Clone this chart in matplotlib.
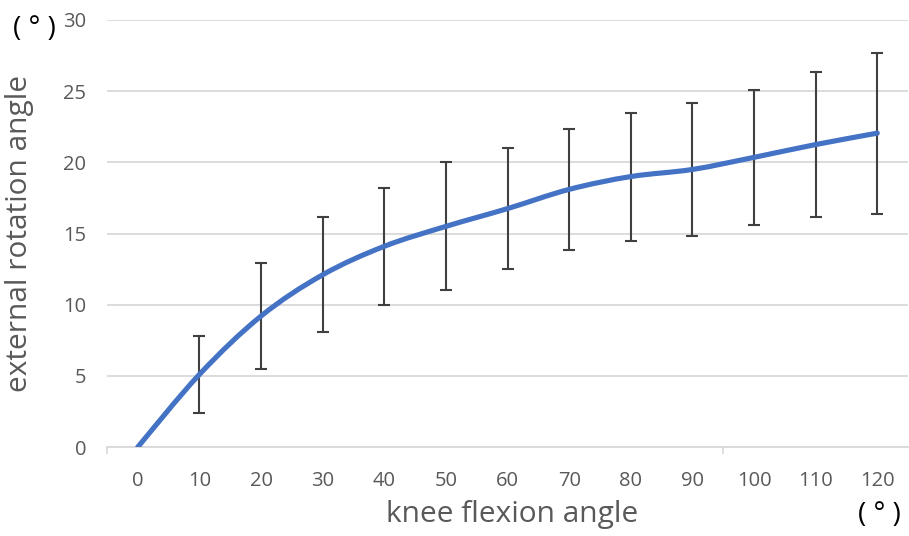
import numpy as np
import matplotlib.pyplot as plt
from matplotlib.path import Path
from matplotlib.patches import PathPatch

plt.rcParams['font.family'] = ['Open Sans', 'DejaVu Sans']

# data
flexion = ['0', '10', '20', '30', '40', '50', '60', '70', '80', '90', '100', '110', '120']
rotation = [0, 5.1, 9.2, 12.1, 14.1, 15.5, 16.75, 18.1, 19.0, 19.5, 20.35, 21.25, 22.05]
sd = [0, 2.7, 3.7, 4.05, 4.1, 4.5, 4.25, 4.25, 4.5, 4.7, 4.75, 5.1, 5.65]

gray_text = '#595959'
blue = '#4472C4'

fig = plt.figure(figsize=(9.09, 5.36), dpi=100)
ax = fig.add_axes([0.1177, 0.166, 0.8813, 0.7967])

x = np.arange(len(flexion))
y = np.array(rotation)

# error bars (no line through them)
ax.errorbar(x[1:], y[1:], yerr=sd[1:], fmt='none', ecolor='#404040',
            elinewidth=1.5, capsize=4.3, capthick=1.5, zorder=3)

# smoothed line like Excel's "smooth line" option (Catmull-Rom as cubic Bezier)
verts = [(x[0], y[0])]
codes = [Path.MOVETO]
n = len(x)
for i in range(n - 1):
    p0 = np.array([x[max(i - 1, 0)], y[max(i - 1, 0)]])
    p1 = np.array([x[i], y[i]])
    p2 = np.array([x[i + 1], y[i + 1]])
    p3 = np.array([x[min(i + 2, n - 1)], y[min(i + 2, n - 1)]])
    c1 = p1 + (p2 - p0) / 6
    c2 = p2 - (p3 - p1) / 6
    verts += [tuple(c1), tuple(c2), tuple(p2)]
    codes += [Path.CURVE4] * 3
ax.add_patch(PathPatch(Path(verts, codes), facecolor='none', edgecolor=blue,
                       lw=3.7, capstyle='round', zorder=4))

ax.set_xlim(-0.5, n - 0.5)
ax.set_ylim(0, 30)
ax.set_yticks(range(0, 31, 5))
ax.set_xticks(x)
ax.set_xticklabels(flexion)
# only two category-boundary ticks show in the original
ax.set_xticks([-0.5, 9.5], minor=True)

ax.grid(axis='y', color='#d9d9d9', linewidth=1.3, zorder=0)
for s in ['top', 'right', 'left']:
    ax.spines[s].set_visible(False)
ax.spines['bottom'].set_color('#d9d9d9')
ax.spines['bottom'].set_linewidth(1.3)

ax.tick_params(axis='x', which='major', length=0, labelsize=14.5, labelcolor=gray_text, pad=17)
ax.tick_params(axis='x', which='minor', length=5, color='#d9d9d9', width=1.2)
ax.tick_params(axis='y', length=0, labelsize=14.5, labelcolor=gray_text, pad=15)

ax.set_xlabel('knee flexion angle', fontsize=21.5, color=gray_text)
ax.set_ylabel('external rotation angle', fontsize=21.5, color=gray_text)
ax.xaxis.set_label_coords(0.506, -0.125)
ax.yaxis.set_label_coords(-0.091, 0.5)

fig.text(0.038, 0.945, '( ° )', fontsize=20, color='black', ha='center', va='center')
fig.text(0.967, 0.04, '( ° )', fontsize=20, color='black', ha='center', va='center')

fig.savefig('out.png', dpi=100)
